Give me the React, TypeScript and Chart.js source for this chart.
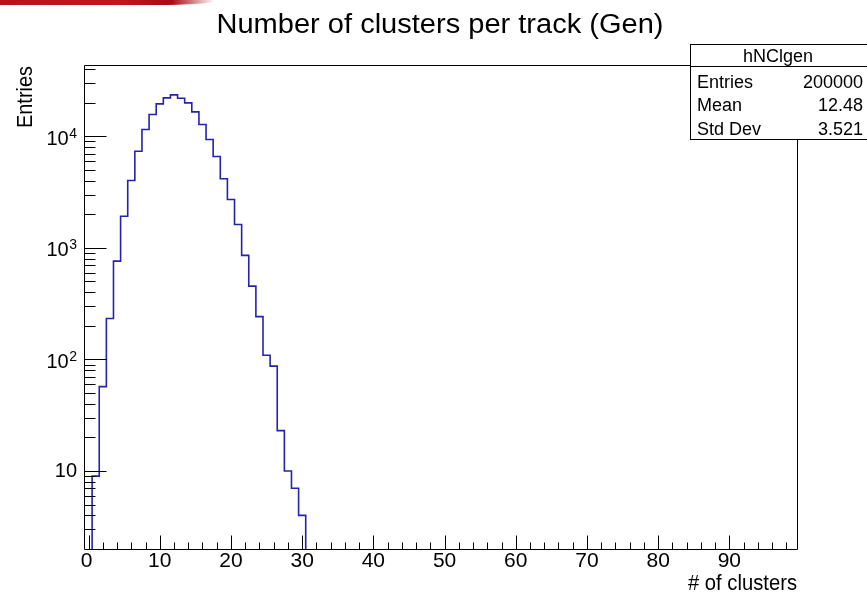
import React, { useEffect, useRef } from "react";
import { Chart, registerables } from "chart.js";

Chart.register(...registerables);

// ---- data ----
const binCenters = [0, 1, 2, 3, 4, 5, 6, 7, 8, 9, 10, 11, 12, 13, 14, 15, 16, 17, 18, 19, 20, 21, 22, 23, 24, 25, 26, 27, 28, 29, 30, 31];
const binCounts = [0, 9, 57, 233, 760, 1920, 4010, 7340, 11480, 15640, 19500, 22070, 23490, 21890, 19910, 16530, 12730, 9340, 6580, 4160, 2710, 1620, 855, 454, 242, 109, 87, 23, 10, 7, 4, 0];
const xTickValues = [0, 10, 20, 30, 40, 50, 60, 70, 80, 90];
const yTickValues = [10, 100, 1000, 10000];
const yTickExponents = ["", "2", "3", "4"];
const titleText = "Number of clusters per track (Gen)";
const xTitle = "# of clusters";
const yTitle = "Entries";
const statsName = "hNClgen";
const statsLabels = ["Entries", "Mean", "Std Dev"];
const statsValues = ["200000", "12.48", "3.521"];
const binWidth = 1;
const xMin = -0.5;
const xMax = 99.5;
const yMin = 2;
const yMax = 43500;

const FONT = '"Liberation Sans", Arial, Helvetica, sans-serif';

function fitText(ctx: CanvasRenderingContext2D, text: string, x: number, y: number, size: number, width?: number) {
  ctx.font = `${size}px ${FONT}`;
  let sx = 1;
  if (width) {
    const m = ctx.measureText(text).width;
    sx = width / m;
  }
  ctx.save();
  ctx.translate(x, y);
  ctx.scale(sx, 1);
  ctx.fillText(text, 0, 0);
  ctx.restore();
}

const framePlugin = {
  id: "rootFrame",
  afterDatasetsDraw(chart: any) {
    const ctx: CanvasRenderingContext2D = chart.ctx;
    const { left, right, top, bottom } = chart.chartArea;
    const xs = chart.scales.x;
    const ys = chart.scales.y;
    ctx.save();
    ctx.strokeStyle = "#000";
    ctx.lineWidth = 1;
    const L = Math.floor(left) - 0.5;
    const R = Math.floor(right) + 0.5;
    const T = Math.floor(top) + 0.5;
    const B = Math.floor(bottom) + 0.5;
    ctx.beginPath();
    ctx.rect(L, T, R - L, B - T);
    ctx.stroke();

    // x ticks
    ctx.beginPath();
    for (let v = 0; v < xMax; v += 2) {
      const px = Math.round(xs.getPixelForValue(v)) + 0.5;
      const len = v % 10 === 0 ? 14 : 7;
      ctx.moveTo(px, B);
      ctx.lineTo(px, B - len);
    }
    // y ticks (log)
    for (let d = 0; d <= 4; d++) {
      for (let m = 1; m <= 9; m++) {
        const v = m * Math.pow(10, d);
        if (v <= yMin * 1.01 || v > yMax) continue;
        const py = Math.round(ys.getPixelForValue(v)) + 0.5;
        const len = m === 1 ? 22 : 11;
        ctx.moveTo(L, py);
        ctx.lineTo(L + len, py);
      }
    }
    ctx.stroke();

    ctx.fillStyle = "#000";
    // x tick labels
    ctx.textAlign = "center";
    ctx.textBaseline = "middle";
    xTickValues.forEach((v) => {
      fitText(ctx, String(v), xs.getPixelForValue(v) - (v === 0 ? 2 : 0), 561, 21);
    });
    // y tick labels
    yTickValues.forEach((v, i) => {
      const py = ys.getPixelForValue(v);
      const exp = yTickExponents[i];
      ctx.textAlign = "right";
      ctx.textBaseline = "middle";
      if (!exp) {
        fitText(ctx, "10", 77, py + 0.5, 20);
      } else {
        ctx.font = `14px ${FONT}`;
        const ew = ctx.measureText(exp).width;
        fitText(ctx, exp, 77, py - 2.5, 14);
        fitText(ctx, "10", 77 - ew - 0.5, py + 3, 20);
      }
    });

    // axis titles
    ctx.textAlign = "right";
    ctx.textBaseline = "alphabetic";
    fitText(ctx, xTitle, 797, 590, 22, 109);
    ctx.save();
    ctx.translate(32, 66);
    ctx.rotate(-Math.PI / 2);
    fitText(ctx, yTitle, 0, 0, 22, 62);
    ctx.restore();

    // title
    ctx.textAlign = "center";
    fitText(ctx, titleText, 440, 33, 27, 447);
    ctx.restore();
  },
  afterDraw(chart: any) {
    const ctx: CanvasRenderingContext2D = chart.ctx;
    ctx.save();
    const bx = 690.5, by = 44.5, bw = 180, bh = 95;
    ctx.fillStyle = "#fff";
    ctx.fillRect(bx, by, bw, bh);
    ctx.strokeStyle = "#000";
    ctx.lineWidth = 1;
    ctx.strokeRect(bx, by, bw, bh);
    ctx.beginPath();
    ctx.moveTo(bx, 66.5);
    ctx.lineTo(bx + bw, 66.5);
    ctx.stroke();
    ctx.fillStyle = "#000";
    ctx.textBaseline = "alphabetic";
    ctx.textAlign = "center";
    fitText(ctx, statsName, 778, 62, 18);
    const rowY = [87.5, 111, 134.5];
    statsLabels.forEach((lab, i) => {
      ctx.textAlign = "left";
      fitText(ctx, lab, 697, rowY[i], 18);
      ctx.textAlign = "right";
      fitText(ctx, statsValues[i], 863, rowY[i], 18);
    });
    ctx.restore();
  },
};

export default function App() {
  const ref = useRef<HTMLCanvasElement | null>(null);
  useEffect(() => {
    if (!ref.current) return;
    // empty bins sit below the log axis minimum; they are clipped at the frame bottom
    const floorValue = yMin / 10;
    const pts = binCenters.map((c, i) => ({ x: c - binWidth / 2, y: binCounts[i] > 0 ? binCounts[i] : floorValue }));
    const chart = new Chart(ref.current, {
      type: "line",
      data: {
        datasets: [
          {
            data: pts,
            borderColor: "#2323b0",
            borderWidth: 1.6,
            pointRadius: 0,
            stepped: "before",
            fill: false,
            tension: 0,
            clip: 0,
          },
        ],
      },
      options: {
        animation: false,
        responsive: false,
        devicePixelRatio: 1,
        layout: { padding: { left: 85, right: 70, top: 65, bottom: 45 } },
        plugins: { legend: { display: false }, tooltip: { enabled: false }, title: { display: false } },
        scales: {
          x: { type: "linear", min: xMin, max: xMax, display: false },
          y: { type: "logarithmic", min: yMin, max: yMax, display: false },
        },
      },
      plugins: [framePlugin],
    } as any);
    return () => chart.destroy();
  }, []);
  return (
    <div style={{ position: "absolute", left: 0, top: 0, width: 867, height: 594, background: "#fff", overflow: "hidden" }}>
      <div
        style={{
          position: "absolute",
          left: 0,
          top: 0,
          width: 215,
          height: 5,
          background: "linear-gradient(to right, #b8121c 0%, #c4141e 55%, #a80c14 80%, rgba(200,30,40,0) 100%)",
          borderBottomRightRadius: "60px 4px",
        }}
      />
      <canvas ref={ref} width={867} height={594} style={{ position: "absolute", left: 0, top: 0, display: "block" }} />
    </div>
  );
}
